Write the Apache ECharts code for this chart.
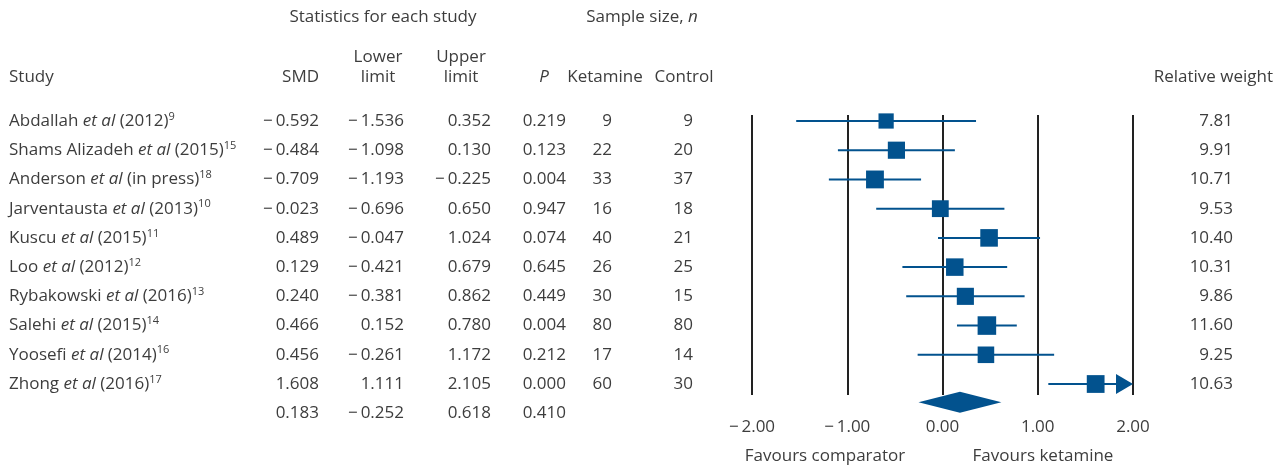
<!DOCTYPE html>
<html><head><meta charset="utf-8">
<script src="https://cdn.jsdelivr.net/npm/echarts@6/dist/echarts.min.js"></script>
<style>html,body{margin:0;padding:0;background:#fff}#c{width:1286px;height:468px}</style>
</head><body><div id="c"></div>
<script>
// ---- data ----
const studies = ['Abdallah', 'Shams Alizadeh', 'Anderson', 'Jarventausta', 'Kuscu', 'Loo', 'Rybakowski', 'Salehi', 'Yoosefi', 'Zhong'];
const years = ['(2012)', '(2015)', '(in press)', '(2013)', '(2015)', '(2012)', '(2016)', '(2015)', '(2014)', '(2016)'];
const refs = ['9', '15', '18', '10', '11', '12', '13', '14', '16', '17'];
const smd = [-0.592, -0.484, -0.709, -0.023, 0.489, 0.129, 0.240, 0.466, 0.456, 1.608];
const lowerLimit = [-1.536, -1.098, -1.193, -0.696, -0.047, -0.421, -0.381, 0.152, -0.261, 1.111];
const upperLimit = [0.352, 0.130, -0.225, 0.650, 1.024, 0.679, 0.862, 0.780, 1.172, 2.105];
const pValues = [0.219, 0.123, 0.004, 0.947, 0.074, 0.645, 0.449, 0.004, 0.212, 0.000];
const ketamineN = [9, 22, 33, 16, 40, 26, 30, 80, 17, 60];
const controlN = [9, 20, 37, 18, 21, 25, 15, 80, 14, 30];
const relWeight = [7.81, 9.91, 10.71, 9.53, 10.40, 10.31, 9.86, 11.60, 9.25, 10.63];
const summarySmd = 0.183;
const summaryLower = -0.252;
const summaryUpper = 0.618;
const summaryP = 0.410;
const xTicks = [-2, -1, 0, 1, 2];

// ---- style ----
const FONT = '"Open Sans", "DejaVu Sans", sans-serif';
const FS = 17;
const TXT = '#3d3d3d';
const BLUE = '#02528e';

function fmt(v, d) {
  const s = Math.abs(v).toFixed(d);
  return v < 0 ? '\u2212\u2009' + s : s;
}

const nRows = studies.length;
const summaryRow = nRows;

const tableData = [];
for (let i = 0; i <= nRows; i++) tableData.push([0, i]);
const forestData = smd.map((v, i) => [v, i, lowerLimit[i], upperLimit[i], relWeight[i]]);
const diamondData = [[summarySmd, summaryRow, summaryLower, summaryUpper]];

const richBase = {
  n: { fontFamily: FONT, fontSize: FS, fill: TXT, color: TXT, lineHeight: 20 },
  i: { fontFamily: FONT, fontSize: FS, fontStyle: 'italic', fill: TXT, color: TXT, lineHeight: 20 },
  s: { fontFamily: FONT, fontSize: 11, fill: TXT, color: TXT, lineHeight: 12, verticalAlign: 'top' }
};

function txt(x, y, text, align) {
  return { type: 'text', x: x, y: y, silent: true,
    style: { text: text, textAlign: align, textVerticalAlign: 'middle', fontFamily: FONT, fontSize: FS, fill: TXT } };
}
function head(x, y, text, align, extra) {
  return { type: 'text', x: x, y: y, silent: true,
    style: Object.assign({ text: text, textAlign: align, textVerticalAlign: 'middle', fontFamily: FONT, fontSize: FS, fill: TXT }, extra || {}) };
}

const colRight = { smd: 319, lower: 404, upper: 491, p: 566, ket: 612, ctl: 693, w: 1233 };

const chart = echarts.init(document.getElementById('c'), null, { renderer: 'canvas' });
chart.setOption({
  animation: false,
  backgroundColor: '#fff',
  grid: { left: 752, right: 153, top: 115, bottom: 73 },
  xAxis: {
    type: 'value', min: xTicks[0], max: xTicks[xTicks.length - 1], interval: 1,
    axisLine: { show: false }, axisTick: { show: false },
    splitLine: { show: true, lineStyle: { color: '#222', width: 2 } },
    axisLabel: { margin: 24, fontFamily: FONT, fontSize: FS, color: TXT, formatter: v => fmt(v, 2) }
  },
  yAxis: { type: 'value', inverse: true, min: -0.205, max: 9.376, show: false },
  graphic: [
    head(383, 17, 'Statistics for each study', 'center'),
    { type: 'text', silent: true, x: 642, y: 17,
      style: { text: '{n|Sample size, }{i|n}', textAlign: 'center', textVerticalAlign: 'middle', rich: richBase } },
    head(9, 77, 'Study', 'left'),
    head(319, 77, 'SMD', 'right'),
    head(378, 67, 'Lower\nlimit', 'center', { lineHeight: 20 }),
    head(461, 67, 'Upper\nlimit', 'center', { lineHeight: 20 }),
    head(544, 77, 'P', 'center', { fontStyle: 'italic' }),
    head(605, 77, 'Ketamine', 'center'),
    head(684, 77, 'Control', 'center'),
    head(1273, 77, 'Relative weight', 'right'),
    head(825, 456, 'Favours comparator', 'center'),
    head(1043, 456, 'Favours ketamine', 'center')
  ],
  series: [
    {
      type: 'custom', name: 'table', clip: false, silent: true, data: tableData,
      renderItem: function (params, api) {
        const i = api.value(1);
        const y = api.coord([0, i])[1];
        const ch = [];
        if (i < nRows) {
          ch.push({ type: 'text', x: 9, y: y, silent: true,
            style: { text: '{n|' + studies[i] + ' }{i|et al}{n| ' + years[i] + '}{s|' + refs[i] + '}',
              textAlign: 'left', textVerticalAlign: 'middle', rich: richBase } });
          ch.push(txt(colRight.smd, y, fmt(smd[i], 3), 'right'));
          ch.push(txt(colRight.lower, y, fmt(lowerLimit[i], 3), 'right'));
          ch.push(txt(colRight.upper, y, fmt(upperLimit[i], 3), 'right'));
          ch.push(txt(colRight.p, y, pValues[i].toFixed(3), 'right'));
          ch.push(txt(colRight.ket, y, String(ketamineN[i]), 'right'));
          ch.push(txt(colRight.ctl, y, String(controlN[i]), 'right'));
          ch.push(txt(colRight.w, y, relWeight[i].toFixed(2), 'right'));
        } else {
          ch.push(txt(colRight.smd, y, fmt(summarySmd, 3), 'right'));
          ch.push(txt(colRight.lower, y, fmt(summaryLower, 3), 'right'));
          ch.push(txt(colRight.upper, y, fmt(summaryUpper, 3), 'right'));
          ch.push(txt(colRight.p, y, summaryP.toFixed(3), 'right'));
        }
        return { type: 'group', children: ch };
      }
    },
    {
      type: 'custom', name: 'studies', clip: false, silent: true, data: forestData, z: 5,
      renderItem: function (params, api) {
        const row = api.value(1);
        const c = api.coord([api.value(0), row]);
        const lo = api.coord([api.value(2), row]);
        const xMax = xTicks[xTicks.length - 1];
        const upV = api.value(3);
        const hi = api.coord([Math.min(upV, xMax), row]);
        const size = 5.45 * Math.sqrt(api.value(4));
        const arrowW = 17, arrowH = 10;
        const lineEnd = upV > xMax ? hi[0] - arrowW : hi[0];
        const ch = [
          { type: 'line', shape: { x1: lo[0], y1: c[1], x2: lineEnd, y2: c[1] }, style: { stroke: BLUE, lineWidth: 2 } },
          { type: 'rect', shape: { x: c[0] - size / 2, y: c[1] - size / 2, width: size, height: size }, style: { fill: BLUE } }
        ];
        if (upV > xMax) {
          ch.push({ type: 'polygon', shape: { points: [[hi[0], c[1]], [hi[0] - arrowW, c[1] - arrowH], [hi[0] - arrowW, c[1] + arrowH]] }, style: { fill: BLUE } });
        }
        return { type: 'group', children: ch };
      }
    },
    {
      type: 'custom', name: 'summary', clip: false, silent: true, data: diamondData, z: 5,
      renderItem: function (params, api) {
        const row = api.value(1);
        const c = api.coord([api.value(0), row]);
        const lo = api.coord([api.value(2), row]);
        const hi = api.coord([api.value(3), row]);
        const yc = c[1] - 11, hh = 10.5;
        return { type: 'polygon', shape: { points: [[lo[0], yc], [c[0], yc - hh], [hi[0], yc], [c[0], yc + hh]] }, style: { fill: BLUE } };
      }
    }
  ]
});
</script>
</body></html>
